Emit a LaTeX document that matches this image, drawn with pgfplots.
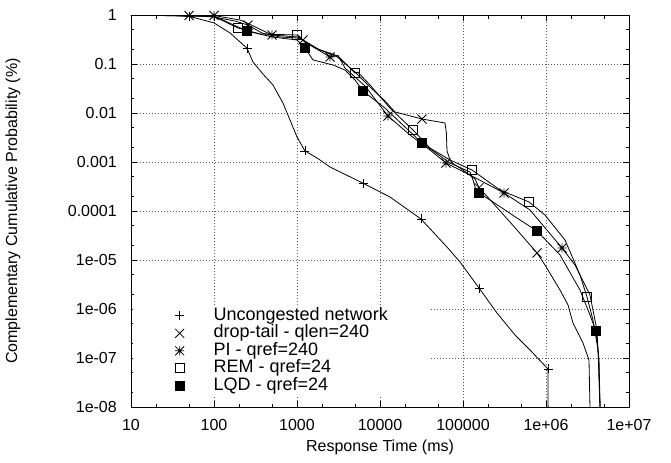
\documentclass[border=0pt]{standalone}
\usepackage{fontspec}
\setmainfont{Liberation Sans}
\usepackage{pgfplots}
\pgfplotsset{compat=1.18}
\usetikzlibrary{plotmarks}

\pgfdeclareplotmark{gpplus}{%
  \pgfpathmoveto{\pgfqpoint{-\pgfplotmarksize}{0pt}}\pgfpathlineto{\pgfqpoint{\pgfplotmarksize}{0pt}}%
  \pgfpathmoveto{\pgfqpoint{0pt}{-\pgfplotmarksize}}\pgfpathlineto{\pgfqpoint{0pt}{\pgfplotmarksize}}%
  \pgfusepathqstroke}
\pgfdeclareplotmark{gpcross}{%
  \pgfpathmoveto{\pgfqpoint{-\pgfplotmarksize}{-\pgfplotmarksize}}\pgfpathlineto{\pgfqpoint{\pgfplotmarksize}{\pgfplotmarksize}}%
  \pgfpathmoveto{\pgfqpoint{-\pgfplotmarksize}{\pgfplotmarksize}}\pgfpathlineto{\pgfqpoint{\pgfplotmarksize}{-\pgfplotmarksize}}%
  \pgfusepathqstroke}
\pgfdeclareplotmark{gpstar}{%
  \pgfpathmoveto{\pgfqpoint{-\pgfplotmarksize}{0pt}}\pgfpathlineto{\pgfqpoint{\pgfplotmarksize}{0pt}}%
  \pgfpathmoveto{\pgfqpoint{0pt}{-\pgfplotmarksize}}\pgfpathlineto{\pgfqpoint{0pt}{\pgfplotmarksize}}%
  \pgfpathmoveto{\pgfqpoint{-\pgfplotmarksize}{-\pgfplotmarksize}}\pgfpathlineto{\pgfqpoint{\pgfplotmarksize}{\pgfplotmarksize}}%
  \pgfpathmoveto{\pgfqpoint{-\pgfplotmarksize}{\pgfplotmarksize}}\pgfpathlineto{\pgfqpoint{\pgfplotmarksize}{-\pgfplotmarksize}}%
  \pgfusepathqstroke}

\pgfplotsset{
  gpline/.style={black, line width=0.8bp, mark=none, forget plot},
  gpmarks/.style={only marks, black, mark size=4.5bp, mark options={solid, line width=0.8bp},
    legend image code/.code={\draw[##1] plot coordinates {(0bp,0bp)};}},
}

\begin{document}
\begin{tikzpicture}
\begin{axis}[
  scale only axis, width=498bp, height=392bp,
  xmode=log, ymode=log,
  xmin=10, xmax=1e7, ymin=1e-8, ymax=1,
  xtick={10,100,1000,10000,100000,1000000,10000000},
  xticklabels={10,100,1000,10000,100000,1e+06,1e+07},
  minor xtick={20,50,200,500,2000,5000,20000,50000,200000,500000,2000000,5000000},
  ytick={1e-8,1e-7,1e-6,1e-5,1e-4,1e-3,1e-2,1e-1,1},
  yticklabels={1e-08,1e-07,1e-06,1e-05,0.0001,0.001,0.01,0.1,1},
  minor ytick={2e-8,5e-8,2e-7,5e-7,2e-6,5e-6,2e-5,5e-5,2e-4,5e-4,2e-3,5e-3,2e-2,5e-2,0.2,0.5},
  grid=major,
  major grid style={black!65, line width=0.6bp, dash pattern=on 1bp off 2bp},
  minor grid style={draw=none},
  axis line style={black, line width=0.9bp},
  tick style={black, line width=0.7bp},
  major tick length=6bp, minor tick length=3.5bp,
  tick align=inside,
  xticklabel style={font=\fontsize{16bp}{19bp}\selectfont, anchor=center, yshift=-18bp},
  yticklabel style={font=\fontsize{16bp}{19bp}\selectfont, anchor=east, inner sep=0bp, xshift=-14bp},
  every axis x label/.style={at={(rel axis cs:0.5,0)}, yshift=-40bp, anchor=center, font=\fontsize{16bp}{19bp}\selectfont},
  every axis y label/.style={at={(rel axis cs:0,0.5)}, xshift=-118bp, rotate=90, anchor=center, font=\fontsize{16bp}{19bp}\selectfont},
  xlabel={Response Time (ms)},
  ylabel={Complementary Cumulative Probability (\%)},
  legend cell align=left,
  legend style={
    at={(rel axis cs:0.004,0.258)}, anchor=north west,
    draw=none, fill=white,
    inner xsep=42bp, inner ysep=1bp,
    font=\fontsize{18bp}{19bp}\selectfont,
    nodes={inner sep=1bp, text height=12bp, text depth=3.5bp},
    /tikz/every odd column/.append style={column sep=28.5bp},
  },
]
% ---- lines ----
\addplot[gpline] coordinates {
(10,1) (29.5,0.97) (50,0.94) (100,0.69) (156,0.43) (250,0.21) (295,0.11) (389,0.0625) (514,0.0373) (677,0.016) (824,0.0072) (1000,0.00324) (1248,0.00168) (1742,0.00121) (2500,0.00079) (6240,0.00037) (13190,0.000193) (31190,6.87e-5) (64140,1.84e-5) (92020,9.1e-6) (156000,2.68e-6) (256800,8.28e-7) (423500,2.95e-7) (641300,1.46e-7) (1057000,5.97e-8) (1060000,1e-8)
};
\addplot[gpline] coordinates {
(10,1) (50,0.977) (100,0.91) (179,0.754) (256.8,0.625) (378.5,0.429) (624,0.356) (1000,0.340) (1181,0.309) (1648,0.212) (2871,0.153) (5000,0.0687) (7164,0.0373) (11480,0.0176) (15160,0.0105) (32060,0.00754) (60670,0.00625) (63000,0.004) (64140,0.0017) (69660,0.0011) (73620,0.000954) (92020,0.000755) (139500,0.00045) (156000,0.0003) (229700,0.000146) (447800,4.1e-5) (779400,1.39e-5) (972900,7.91e-6) (1475000,2.44e-6) (1842000,1.21e-6) (2115000,5.18e-7) (2792000,2.02e-7) (3296000,9.1e-8) (3388000,1e-8)
};
\addplot[gpline] coordinates {
(10,1) (100,0.977) (205.6,0.791) (236.4,0.72) (500,0.391) (1028,0.356) (1248,0.281) (2500,0.139) (3119,0.15) (3785,0.0829) (6590,0.0356) (12480,0.00869) (22960,0.00356) (40000,0.00176) (62400,0.000954) (121400,0.000543) (311900,0.000233) (641300,0.000105) (1560000,1.76e-5) (2235000,7.91e-6) (3388000,1.93e-6) (4111000,3.73e-7) (4300000,9.1e-8) (4477000,1e-8)
};
\addplot[gpline] coordinates {
(10,1) (100,0.932) (194.5,0.543) (358,0.41) (1000,0.391) (1181,0.309) (1892,0.193) (3296,0.133) (5000,0.0655) (5433,0.068) (7580,0.0373) (13190,0.0126) (25000,0.0045) (40000,0.00193) (69660,0.0011) (128300,0.000687) (279100,0.000268) (623700,0.000153) (972900,8.28e-5) (1694000,2.56e-5) (2570000,4.94e-6) (3118000,1.76e-6) (3681000,5.97e-7) (4236000,1.46e-7) (4477000,1e-8)
};
\addplot[gpline] coordinates {
(10,1) (100,0.954) (249.7,0.472) (500,0.356) (1000,0.309) (1248,0.212) (1560,0.121) (2716,0.0954) (3785,0.0754) (5000,0.0471) (6240,0.0281) (11480,0.0126) (32060,0.00244) (69660,0.000954) (121400,0.000625) (131900,0.000429) (143500,0.000268) (156000,0.000233) (211300,0.000168) (486200,6.55e-5) (779400,3.91e-5) (1475000,1.27e-5) (2570000,2.44e-6) (3388000,7.54e-7) (4000000,3.56e-7) (4355000,9.1e-8) (4477000,1e-8)
};
% ---- marks ----
\addplot[gpmarks, mark=gpplus] coordinates {
(50,0.94) (250,0.21) (1248,0.00168) (6240,0.00037) (31190,6.87e-5) (156000,2.68e-6) (1057000,5.97e-8)
};
\addlegendentry{Uncongested network}
\addplot[gpmarks, mark=gpcross] coordinates {
(50,0.977) (256.8,0.625) (1181,0.309) (32060,0.00754) (156000,0.0003) (779400,1.39e-5)
};
\addlegendentry{drop-tail - qlen=240}
\addplot[gpmarks, mark=gpstar] coordinates {
(100,0.977) (500,0.391) (2500,0.139) (12480,0.00869) (62400,0.000954) (311900,0.000233) (1560000,1.76e-5)
};
\addlegendentry{PI - qref=240}
\addplot[gpmarks, mark=square] coordinates {
(194.5,0.543) (1000,0.391) (5000,0.0655) (25000,0.0045) (128300,0.000687) (623700,0.000153) (3118000,1.76e-6)
};
\addlegendentry{REM - qref=24}
\addplot[gpmarks, mark=square*, mark options={fill=black}] coordinates {
(249.7,0.472) (1248,0.212) (6240,0.0281) (32060,0.00244) (156000,0.000233) (779400,3.91e-5) (4000000,3.56e-7)
};
\addlegendentry{LQD - qref=24}
\end{axis}
\pgfresetboundingbox
\path (current axis.south west) ++(-131bp,-56bp) rectangle ++(671bp,463bp);
\end{tikzpicture}
\end{document}
